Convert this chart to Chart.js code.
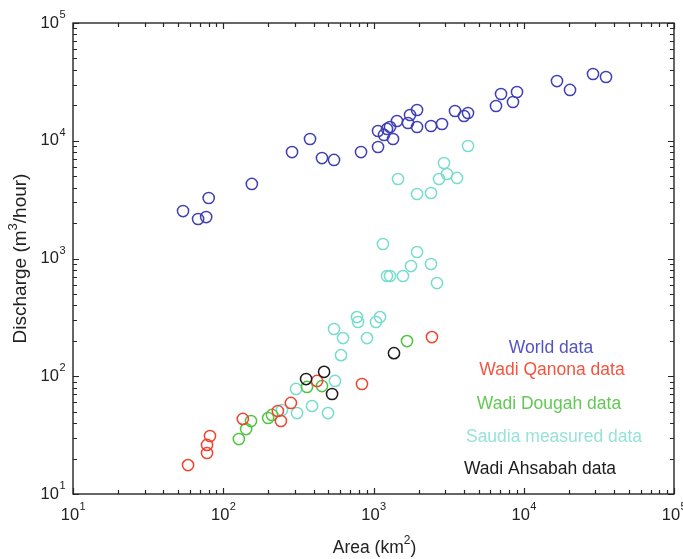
<!DOCTYPE html>
<html>
<head>
<meta charset="utf-8">
<script src="https://cdn.jsdelivr.net/npm/chart.js@4.4.1/dist/chart.umd.min.js"></script>
<style>
  html, body { margin: 0; padding: 0; background: #ffffff; }
  #wrap { width: 683px; height: 559px; }
</style>
</head>
<body>
<div id="wrap"><canvas id="c" width="683" height="559"></canvas></div>
<script>
// Catchment area (km2) and peak discharge (m3/hour) per data source
const worldArea = [54, 68, 77, 80, 155, 287, 378, 454, 546, 826, 1072, 1072, 1175, 1230, 1288, 1349, 1433, 1697, 1750, 1949, 1949, 2414, 2857, 3487, 4002, 4256, 6535, 7060, 8480, 9020, 16640, 20320, 28900, 35270];
const worldQ    = [2530, 2165, 2250, 3265, 4295, 8020, 10350, 7130, 6870, 8020, 8850, 12100, 11200, 12590, 13090, 10350, 14720, 14150, 16550, 18250, 13090, 13340, 13870, 17900, 16230, 17200, 19730, 24950, 21340, 25950, 32150, 27000, 36900, 34770];

const qanonaArea = [58.3, 78, 78, 81.6, 135, 242, 231, 282, 421, 838, 2449];
const qanonaQ    = [17.6, 22.3, 26.1, 31.1, 43.4, 41.7, 50.7, 59.3, 91.2, 85.9, 215];

const dougahArea = [127, 142, 153, 199, 211, 361, 454, 1671];
const dougahQ    = [29.3, 35.6, 41.7, 44.2, 46.9, 81.1, 82.6, 199];

const saudiaArea = [4256, 2945, 2729, 3084, 3596, 1456, 1949, 2414, 1156, 1949, 1777, 2414, 1230, 1288, 1571, 2646, 776, 789, 1105, 1039, 546, 627, 905, 608, 554, 305, 390, 310, 498, 246];
const saudiaQ    = [9020, 6470, 4733, 5220, 4830, 4733, 3530, 3600, 1328, 1135, 863, 898, 710, 710, 710, 619, 318, 289, 318, 289, 252, 211, 211, 151, 91.2, 78, 55.9, 48.7, 48.7, 51.7];

const ahsabahArea = [356, 469, 530, 1369];
const ahsabahQ    = [94.7, 109, 70.7, 157];

const seriesNames  = ['World data', 'Wadi Qanona data', 'Wadi Dougah data', 'Saudia measured data', 'Wadi Ahsabah data'];
const markerColors = ['#3f3fb6', '#f2432e', '#4fc43f', '#76dccd', '#1c1c1c'];
const textColors   = ['#5353c4', '#f25440', '#63c955', '#97e2d9', '#1c1c1c'];

// Decade tick labels (powers of ten) shared by both axes
const xPowers = [1, 2, 3, 4, 5];
const yPowers = [1, 2, 3, 4, 5];

const toPoints = (xs, ys) => xs.map((x, i) => ({ x: x, y: ys[i] }));

const FONT = '"Liberation Sans", Arial, Helvetica, sans-serif';

function ds(idx, xs, ys, order) {
  return {
    label: seriesNames[idx],
    data: toPoints(xs, ys),
    showLine: false,
    pointStyle: 'circle',
    pointRadius: 5.6,
    pointBorderWidth: 1.5,
    pointBackgroundColor: 'rgba(0,0,0,0)',
    pointBorderColor: markerColors[idx],
    backgroundColor: 'rgba(0,0,0,0)',
    borderColor: markerColors[idx],
    order: order
  };
}

// Draws "10" with a raised exponent; align = 'center' or 'right'
function drawPow(ctx, p, x, y, align) {
  const base = '10', sup = String(p);
  ctx.font = '16.5px ' + FONT;
  const wb = ctx.measureText(base).width;
  ctx.font = '11px ' + FONT;
  const ws = ctx.measureText(sup).width;
  const total = wb + ws;
  let left = align === 'center' ? x - total / 2 : x - total;
  ctx.textAlign = 'left';
  ctx.textBaseline = 'middle';
  ctx.font = '16.5px ' + FONT;
  ctx.fillText(base, left, y);
  ctx.font = '11px ' + FONT;
  ctx.fillText(sup, left + wb + 0.5, y - 8);
}

// Draws a text run made of [text, isSuperscript] pieces, centred at (0,0)
function drawRich(ctx, parts, size, supSize) {
  let widths = parts.map(([t, s]) => {
    ctx.font = (s ? supSize : size) + 'px ' + FONT;
    return ctx.measureText(t).width;
  });
  const total = widths.reduce((a, b) => a + b, 0);
  let x = -total / 2;
  ctx.textAlign = 'left';
  ctx.textBaseline = 'middle';
  parts.forEach(([t, s], i) => {
    ctx.font = (s ? supSize : size) + 'px ' + FONT;
    ctx.fillText(t, x, s ? -size * 0.42 : 0);
    x += widths[i];
  });
}

const frame = {
  id: 'frame',
  afterDatasetsDraw(chart) {
    const ctx = chart.ctx;
    const a = chart.chartArea;
    const xs = chart.scales.x, ys = chart.scales.y;
    ctx.save();
    ctx.strokeStyle = '#262626';
    ctx.lineWidth = 1.4;
    ctx.strokeRect(a.left, a.top, a.right - a.left, a.bottom - a.top);

    // inward ticks on all four sides, minor ticks at 2..9 within each decade
    ctx.lineWidth = 1.2;
    ctx.beginPath();
    for (let p = 1; p <= 5; p++) {
      for (let k = 1; k <= 9; k++) {
        const v = k * Math.pow(10, p);
        const len = k === 1 ? 6 : 4;
        if (v <= 1e5) {
          const px = Math.round(xs.getPixelForValue(v)) + 0.5;
          ctx.moveTo(px, a.bottom); ctx.lineTo(px, a.bottom - len);
          ctx.moveTo(px, a.top); ctx.lineTo(px, a.top + len);
          const py = Math.round(ys.getPixelForValue(v)) + 0.5;
          ctx.moveTo(a.left, py); ctx.lineTo(a.left + len, py);
          ctx.moveTo(a.right, py); ctx.lineTo(a.right - len, py);
        }
      }
    }
    ctx.stroke();

    // decade labels
    ctx.fillStyle = '#222222';
    xPowers.forEach(p => drawPow(ctx, p, xs.getPixelForValue(Math.pow(10, p)), a.bottom + 21, 'center'));
    yPowers.forEach(p => drawPow(ctx, p, a.left - 8, ys.getPixelForValue(Math.pow(10, p)), 'right'));

    // axis titles
    ctx.save();
    ctx.translate((a.left + a.right) / 2 + 1, a.bottom + 54);
    drawRich(ctx, [['Area (km', false], ['2', true], [')', false]], 17.5, 12);
    ctx.restore();
    ctx.save();
    ctx.translate(21, (a.top + a.bottom) / 2);
    ctx.rotate(-Math.PI / 2);
    drawRich(ctx, [['Discharge (m', false], ['3', true], ['/hour)', false]], 19, 13);
    ctx.restore();

    // series key, written as coloured text inside the axes
    const keyX = [551, 552, 549, 554, 540];
    const keyY = [348, 370, 404, 437, 469];
    ctx.font = '17.5px ' + FONT;
    ctx.textAlign = 'center';
    ctx.textBaseline = 'middle';
    seriesNames.forEach((name, i) => {
      ctx.fillStyle = textColors[i];
      ctx.fillText(name, keyX[i], keyY[i]);
    });
    ctx.restore();
  }
};

new Chart(document.getElementById('c'), {
  type: 'scatter',
  data: {
    datasets: [
      ds(4, ahsabahArea, ahsabahQ, 1),
      ds(1, qanonaArea, qanonaQ, 2),
      ds(2, dougahArea, dougahQ, 3),
      ds(3, saudiaArea, saudiaQ, 4),
      ds(0, worldArea, worldQ, 5)
    ]
  },
  options: {
    responsive: false,
    animation: false,
    events: [],
    layout: { padding: { left: 73, right: 9, top: 23, bottom: 65 } },
    plugins: { legend: { display: false }, tooltip: { enabled: false } },
    scales: {
      x: {
        type: 'logarithmic', min: 10, max: 100000,
        ticks: { display: false },
        grid: { display: false, drawTicks: false },
        border: { display: false }
      },
      y: {
        type: 'logarithmic', min: 10, max: 100000,
        ticks: { display: false },
        grid: { display: false, drawTicks: false },
        border: { display: false }
      }
    }
  },
  plugins: [frame]
});
</script>
</body>
</html>
